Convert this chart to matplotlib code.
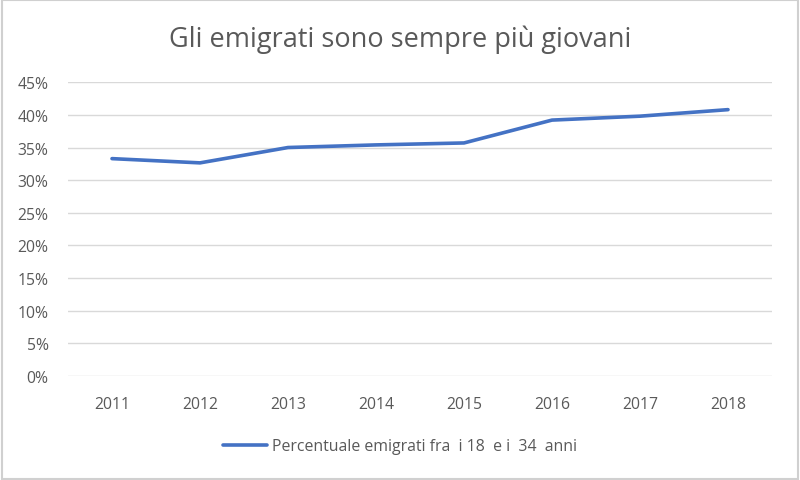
import numpy as np
import matplotlib.pyplot as plt
from matplotlib.patches import Rectangle
from matplotlib.ticker import FuncFormatter

anni = ["2011", "2012", "2013", "2014", "2015", "2016", "2017", "2018"]
percentuale = [33.3, 32.65, 35.0, 35.4, 35.7, 39.2, 39.8, 40.8]

plt.rcParams['font.family'] = ['Open Sans', 'DejaVu Sans']

fig = plt.figure(figsize=(8, 4.81), dpi=100)
ax = fig.add_axes([0.085, 0.216, 0.88, 0.611])

x = np.arange(len(anni))
ax.plot(x, percentuale, color='#4472C4', linewidth=2.6,
        solid_capstyle='round', label="Percentuale emigrati fra  i 18  e i  34  anni")

ax.set_xlim(-0.5, len(anni) - 0.5)
ax.set_ylim(0, 45)
ax.set_yticks(np.arange(0, 46, 5))
ax.yaxis.set_major_formatter(FuncFormatter(lambda v, p: f"{v:.0f}%"))
ax.set_xticks(x)
ax.set_xticklabels(anni)
ax.grid(axis='y', color='#d9d9d9', linewidth=1)
ax.set_axisbelow(True)
for s in ax.spines.values():
    s.set_visible(False)
ax.tick_params(length=0, labelsize=11.3, colors='#595959')
ax.tick_params(axis='x', pad=14)
ax.tick_params(axis='y', pad=14)

fig.text(0.5, 0.918, "Gli emigrati sono sempre più giovani", ha='center', va='center',
         fontsize=19.5, color='#595959')

leg = fig.legend(loc='center', bbox_to_anchor=(0.5, 0.07), frameon=False,
                 fontsize=11.4, handlelength=2.8, handletextpad=0.35)
for t in leg.get_texts():
    t.set_color('#595959')

# cornice grigia
fig.patches.append(Rectangle((0.002, 0.003), 0.996, 0.994, transform=fig.transFigure,
                             fill=False, edgecolor='#d0d0d0', linewidth=1.5))

plt.savefig("out.png", dpi=100)
